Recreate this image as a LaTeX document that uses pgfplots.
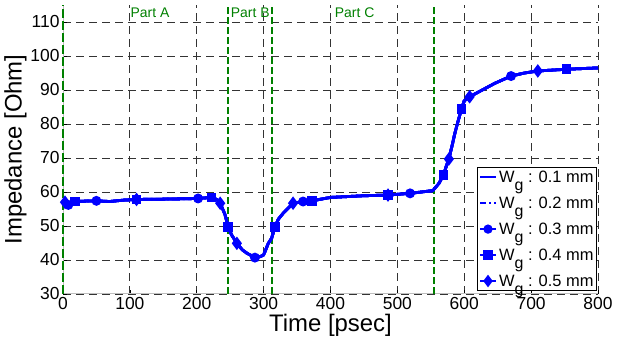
\documentclass[border=0pt]{standalone}
\usepackage{pgfplots}
\usepackage{pgfplotstable}
\pgfplotsset{compat=1.18}
\usepackage{fontspec}
\setmainfont{Liberation Sans}
\definecolor{partgreen}{rgb}{0,0.5,0}
\newcommand{\Wg}{W\raisebox{-8bp}{\fontsize{16}{18}\selectfont g}}
\pgfplotstableread{
x y
0 57.8
3 57.0
8 56.2
18 57.2
30 57.3
50 57.4
70 57.2
90 57.6
110 57.8
150 57.9
180 58.0
202 58.1
222 58.4
230 57.8
235 56.7
242 53.5
247 49.8
252 47.4
260 44.9
268 43.0
275 42.0
287 40.7
295 41.0
300 41.5
307 44.9
312 46.4
317 49.8
322 52.0
329 53.7
344 56.7
359 57.2
372 57.4
400 58.4
450 58.9
486 59.1
519 59.6
540 60.1
553 60.4
562 62.5
569 65.0
573 67.5
577 69.7
582 73.8
586 77.3
591 81.0
596 84.5
600 86.8
608 88.0
625 89.8
646 92.0
670 94.1
690 95.0
710 95.6
753 96.1
800 96.5
}\imp
\begin{document}
\begin{tikzpicture}
\begin{axis}[
  scale only axis,
  width=535bp, height=289bp,
  xmin=0, xmax=800, ymin=30, ymax=115,
  xtick={0,100,...,800},
  ytick={30,40,...,110},
  axis x line*=bottom, axis y line*=left,
  axis line style={gray!50, line width=1pt, -},
  tick style={black, line width=0.6pt},
  major tick length=4bp,
  tick align=inside,
  grid=major,
  major grid style={black!80, dash pattern=on 8bp off 5bp, line width=0.8pt},
  /pgf/number format/assume math mode=true,
  ticklabel style={font=\fontsize{17.5}{20}\selectfont},
  xlabel={Time [psec]}, ylabel={Impedance [Ohm]},
  label style={font=\fontsize{24}{28}\selectfont},
  xlabel style={yshift=3bp},
  ylabel style={yshift=-3bp},
  legend style={at={(1,0)}, anchor=south east, xshift=-1bp, yshift=3bp,
    font=\fontsize{16.5}{19}\selectfont, draw=black, line width=1pt, fill=white,
    row sep=9bp, inner sep=1bp, cells={anchor=west}},
  legend image code/.code={
    \draw[#1] (0bp,0bp) -- (8bp,0bp) -- (16bp,0bp);
    \draw[#1, solid] plot coordinates {(8bp,0bp)};
  },
  clip=false,
]
\addplot[partgreen, line width=2.2pt, dash pattern=on 9bp off 3bp, forget plot] coordinates {(0,30) (0,115)};
\addplot[partgreen, line width=2.2pt, dash pattern=on 7bp off 3bp, forget plot] coordinates {(246.5,30) (246.5,115)};
\addplot[partgreen, line width=2.2pt, dash pattern=on 7bp off 3bp, forget plot] coordinates {(312,30) (312,115)};
\addplot[partgreen, line width=2.2pt, dash pattern=on 7bp off 3bp, forget plot] coordinates {(554.5,30) (554.5,115)};
\node[text=partgreen, font=\fontsize{14}{16}\selectfont] at (axis cs:130,112.6) {Part A};
\node[text=partgreen, font=\fontsize{14}{16}\selectfont] at (axis cs:280,112.6) {Part B};
\node[text=partgreen, font=\fontsize{14}{16}\selectfont] at (axis cs:436,112.6) {Part C};
\addplot[blue, line width=2.8pt, no marks, forget plot] table[x=x,y=y] {\imp};
\addplot[blue, line width=2.8pt, dash pattern=on 8bp off 3bp on 2bp off 3bp, no marks, forget plot] table[x=x,y=y] {\imp};
\addplot[blue, line width=2.8pt, mark=*, mark size=3.5bp, mark indices={3,6,12,22,31,36,51}, forget plot] table[x=x,y=y] {\imp};
\addplot[blue, line width=2.8pt, mark=square*, mark size=3.5bp, mark indices={4,9,13,17,27,32,35,40,46,54}, forget plot] table[x=x,y=y] {\imp};
\addplot[blue, line width=2.8pt, mark=diamond*, mark size=4.5bp, mark indices={2,9,15,19,30,35,42,48,53}, forget plot] table[x=x,y=y] {\imp};
\addlegendimage{blue, line width=2.2pt, mark=none}
\addlegendentry{\Wg\ : 0.1 mm}
\addlegendimage{blue, line width=2.2pt, dash pattern=on 6bp off 3bp on 2bp off 3bp, mark=none}
\addlegendentry{\Wg\ : 0.2 mm}
\addlegendimage{blue, line width=2.2pt, mark=*, mark size=3.5bp}
\addlegendentry{\Wg\ : 0.3 mm}
\addlegendimage{blue, line width=2.2pt, mark=square*, mark size=3.5bp}
\addlegendentry{\Wg\ : 0.4 mm}
\addlegendimage{blue, line width=2.2pt, mark=diamond*, mark size=4.5bp}
\addlegendentry{\Wg\ : 0.5 mm}
\end{axis}
\pgfresetboundingbox
\path ([shift={(-63bp,-43bp)}]current axis.south west) rectangle ([shift={(28bp,5bp)}]current axis.north east);
\end{tikzpicture}
\end{document}
